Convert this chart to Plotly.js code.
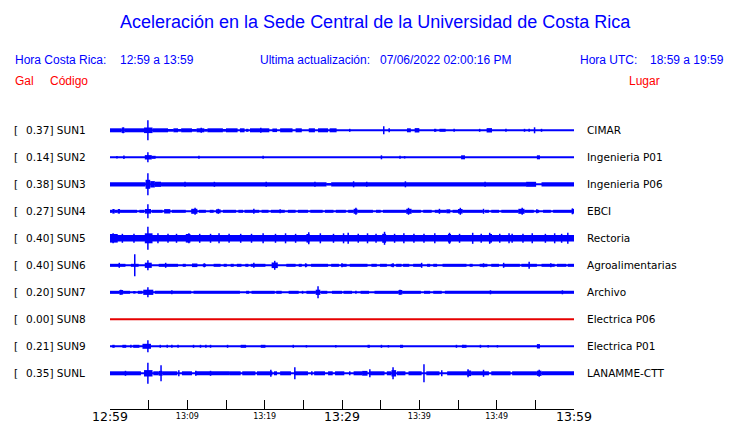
<!DOCTYPE html>
<html><head><meta charset="utf-8">
<script src="https://cdn.plot.ly/plotly-3.0.1.min.js"></script>
<style>html,body{margin:0;padding:0;background:#fff}#chart{width:740px;height:423px}</style>
</head><body><div id="chart"></div>
<script>
// ---- data (minutes after 12:59, amplitudes in display counts) ----
const codes = ['SUN1','SUN2','SUN3','SUN4','SUN5','SUN6','SUN7','SUN8','SUN9','SUNL'];
const galValues = [0.37,0.14,0.38,0.27,0.40,0.40,0.20,0.00,0.21,0.35];
const places = ['CIMAR','Ingenieria P01','Ingenieria P06','EBCI','Rectoria','Agroalimentarias','Archivo','Electrica P06','Electrica P01','LANAMME-CTT'];
const timeSpan = [0, 60];
const tickMinutes = [0,5,10,15,20,25,30,35,40,45,50,55,60];
const majorTickMin = [0,30,60];
const majorTickText = ['12:59','13:29','13:59'];
const minorTickMin = [10,20,40,50];
const minorTickText = ['13:09','13:19','13:39','13:49'];

// bursts: [start, end, half-amplitude]
const sun1Segs = [[0,1.5,2],[1.5,1.9,2.6],[1.9,4.4,2],[4.4,5.5,2.8],[5.5,7.5,2],[7.5,8.2,1.3],[8.2,8.8,2],[8.8,9.2,1.3],[9.2,10.6,2],[10.6,11.2,1.3],[11.2,12.2,2],[12.2,12.6,1.3],[12.6,14.6,2],[14.6,15.0,1.3],[15.0,16.5,2],[16.8,17.4,2],[17.6,17.9,1.5],[18.1,20.6,2],[21.0,21.6,1.8],[22.0,23.6,2],[24.0,24.8,2],[25.7,26.5,2],[26.9,28.2,2],[28.4,29.3,2],[38.4,38.9,2],[39.4,40.0,2.2],[41.9,42.2,1.5],[42.6,43.4,1.5],[48.7,49.4,2.2]];
const sun2Segs = [[4.5,5.4,2.2],[5.4,5.9,1.5],[45.4,45.9,2],[55.2,55.6,2]];
const sun3Segs = [[0,4.6,2.1],[4.6,5.2,4.5],[5.2,5.8,3.2],[5.8,6.6,2.6],[6.6,28,2.1],[28,28.6,1.2],[28.6,53.8,2.1],[53.8,55.1,2.5],[55.8,60,2.1]];
const sun4Segs = [[0,0.3,1.5],[0.3,0.6,2.3],[0.6,1.0,1.5],[1.0,1.3,2.3],[1.3,3.5,1.5],[3.8,4.4,1.5],[4.5,5.3,2.3],[5.4,6.8,1.5],[7.0,7.8,2.2],[8.0,9.8,1.5],[10.5,11.3,2.5],[11.5,12.4,1.5],[12.9,13.4,1.5],[13.7,14.3,2],[14.6,16.3,1.5],[16.6,17.2,1.5],[17.4,19.3,1.5],[19.6,20.5,1.5],[20.8,22.6,1.5],[23.0,24.0,1.5],[24.3,25.6,1.5],[25.9,27.5,1.5],[27.8,28.9,1.5],[29.2,30.5,1.5],[30.8,31.5,1.5],[31.5,32.0,2.5],[32.0,34.0,1.5],[34.4,35.0,1.5],[35.3,38.3,1.5],[38.3,39.0,2.5],[39.0,40.2,1.5],[40.5,41.6,1.5],[42.0,43.5,1.5],[43.5,44.0,2],[44.3,45.0,1.5],[45.0,45.6,2.3],[45.6,48.2,1.5],[48.5,49.0,1.5],[49.3,50.3,1.5],[50.6,52.8,1.5],[52.8,53.6,2.5],[53.6,54.8,1.5],[55.1,55.5,1.5],[56.0,57.0,1.5],[57.3,59.7,1.5],[59.7,60,2.3]];
const sun5Segs = [[0,60,3.2],[0,1.0,4.3],[4.5,5.5,5],[9.8,10.4,4.3],[25.4,25.8,4.3],[35.2,35.7,4.5],[43.7,44.1,4.3],[49.0,49.4,4.3]];
const sun6Segs = [[0,2.0,1.5],[2.7,3.7,1.5],[4.5,5.4,2.6],[6.3,8.8,1.5],[9.4,9.8,1.5],[10.6,11.3,1.8],[12.0,12.4,1.5],[13.4,14.3,1.5],[14.7,15.1,1.5],[15.6,16.0,1.5],[16.4,17.0,1.5],[17.5,17.9,1.5],[18.2,20.1,1.5],[20.9,21.7,2.8],[22.8,24.0,1.5],[24.4,24.8,1.5],[25.3,25.5,1.5],[26.0,28.2,1.5],[28.6,29.6,1.5],[29.9,30.6,1.5],[31.0,33.3,1.5],[33.8,34.5,1.5],[34.9,35.8,1.5],[36.3,36.7,1.5],[37.0,37.7,1.5],[37.9,38.7,1.5],[39.2,40.3,1.5],[41.0,41.4,1.5],[41.8,42.3,1.5],[43.0,46.1,1.5],[46.5,46.9,1.5],[47.8,48.8,1.5],[49.3,50.3,1.5],[50.8,53.0,1.5],[53.2,55.2,1.5],[55.8,57.5,1.5],[57.8,59.0,1.5],[59.2,60,1.5]];
const sun7Segs = [[0,1.2,1.5],[1.2,1.7,2.3],[1.7,2.6,1.5],[3.0,3.3,1.3],[3.6,4.2,1.5],[4.3,5.6,2.6],[5.8,10.5,1.5],[10.8,16.8,1.5],[17.6,18.0,1.5],[18.3,21.3,1.5],[21.5,22.2,1.5],[23.1,24.4,1.5],[24.8,25.0,1.5],[25.4,26.6,1.5],[26.6,27.2,2.6],[27.3,28.1,1.5],[28.7,30.0,1.5],[30.2,31.3,1.5],[31.7,31.9,1.5],[32.4,33.5,1.5],[34.2,37.3,1.5],[37.3,37.8,2.3],[37.8,40.2,1.5],[40.6,41.4,1.5],[41.8,42.9,1.5],[43.3,60,1.5]];
const sun8Segs = [];
const sun9Segs = [[0.3,0.6,1.5],[1.6,2.1,1.5],[3.0,3.8,1.5],[4.2,5.3,2.5],[16.9,17.6,1.5],[19.5,20.1,1.5],[33.3,33.6,1.5],[37.5,37.9,1.5],[45.6,46.1,1.5],[55.2,55.6,2.2]];
const sunLSegs = [[0,4.0,2],[4.4,5.5,3.2],[5.6,6.3,2],[6.3,6.8,2.4],[6.8,8.7,2],[9.3,10.6,2],[11.0,15.5,2],[15.5,16.9,2],[17.1,18.8,2],[19.0,21.0,2],[21.2,21.6,2],[22.0,23.4,2],[23.8,25.6,2],[26.0,26.2,2],[26.4,27.8,2],[28.2,28.8,2],[29.1,30.3,2],[30.9,31.1,2],[31.5,32.6,2],[32.6,33.3,2.4],[33.5,35.5,2],[35.8,36.4,2],[36.4,37.0,3.2],[37.1,38.2,2],[38.6,40.3,2],[40.9,42.6,2],[43.6,46.2,2],[46.2,46.7,2.8],[46.7,49.0,2],[49.3,51.8,2],[52.0,55.2,2],[55.2,55.8,2.6],[55.8,60,2]];

// spikes: [time, half-amplitude]
const sun1Spikes = [[4.9,10],[1.7,3],[11.8,2.5],[19.5,2.5],[31.0,1.5],[35.4,4],[36.1,2],[44.5,1.5],[47.8,1.5],[51.2,1.5],[53.6,1.5],[54.2,1.5],[54.9,3],[55.8,1.5]];
const sun2Spikes = [[4.9,5],[0.9,1.2],[1.8,1.8],[11.5,1.5],[19.8,1.5],[35.1,2],[37.5,1.5],[38.1,1.2]];
const sun3Spikes = [[4.9,11],[31.5,3],[33.2,2.5],[38.2,3],[9.7,2.5],[13.5,2.5],[20.2,2.5],[26.5,2.5],[48.5,2.5]];
const sun4Spikes = [[4.9,7],[11.0,3.5],[22.0,2],[31.8,3.5],[38.6,3.5],[42.6,2.5],[45.3,3.5],[48.3,2.5],[53.3,3.5],[55.2,2],[59.8,3],[18.6,2.5],[14.0,2.5]];
const sun5Spikes = [[4.9,11.5],[0.4,5],[1.6,4.5],[3.1,4.5],[6.2,5],[7.5,4.5],[8.6,4.5],[10.2,5],[11.6,4.5],[13.0,4.5],[14.1,5],[15.4,4.5],[16.9,4.5],[18.3,4.5],[19.8,5],[21.4,4.5],[22.7,5],[24.0,4.5],[25.7,6],[27.2,5],[28.9,4.5],[30.2,5],[30.8,5.5],[32.1,4.5],[33.3,5],[34.4,4.5],[35.5,6.5],[36.8,4.5],[38.0,5],[39.3,4.5],[40.6,4.5],[42.0,5],[43.9,5.5],[45.2,4.5],[46.9,5.5],[48.0,4.5],[49.1,5.5],[50.4,4.5],[51.6,5],[52.0,4.5],[53.4,4.5],[54.6,5],[56.3,4.5],[57.5,5],[58.4,4.5],[59.2,5.5]];
const sun6Spikes = [[3.2,11],[4.9,5],[21.3,4.5],[54.2,3.5],[7.2,2.5],[12.2,2],[18.6,2.5],[25.3,2],[30.0,2],[36.6,2],[40.3,2.5],[48.3,2],[50.9,2.5],[57.0,2],[1.2,2.5]];
const sun7Spikes = [[4.9,5],[26.9,6],[37.5,2.5],[1.4,2.5],[8.0,2],[49.2,2],[58.5,2]];
const sun8Spikes = [];
const sun9Spikes = [[4.9,6],[2.7,1.5],[6.5,1.5],[7.4,1.5],[8.0,1.5],[8.8,1.5],[10.8,1.5],[11.7,1.5],[12.4,1.5],[13.0,1.5],[15.2,1.5],[23.7,1.5],[25.4,1.2],[29.2,1.2],[35.1,1.5],[36.0,1.2],[44.8,1.5],[45.6,1.5],[47.9,1.5],[48.9,1.2],[50.1,1.2]];
const sunLSpikes = [[4.9,10.5],[6.6,8],[8.9,3],[11.1,2.5],[13.0,2.5],[20.8,3.5],[23.9,6],[33.6,4],[36.6,6],[40.6,9],[42.9,3],[46.3,4],[48.3,3.5],[55.5,3.5],[2.0,2.5]];

const allSegs = [sun1Segs,sun2Segs,sun3Segs,sun4Segs,sun5Segs,sun6Segs,sun7Segs,sun8Segs,sun9Segs,sunLSegs];
const allSpikes = [sun1Spikes,sun2Spikes,sun3Spikes,sun4Spikes,sun5Spikes,sun6Spikes,sun7Spikes,sun8Spikes,sun9Spikes,sunLSpikes];

// ---- layout geometry ----
const W = 740, H = 423;
const PL = 110.3, PR = 574.3, PT = 100, PB = 409;
const ROW0 = 30.3, ROWGAP = 27;
const BLUE = '#0000ff', RED = 'rgb(230,0,0)';
const px2x = p => (p - PL) / (PR - PL);
const py2y = p => (PB - p) / (PB - PT);

const traces = [];
codes.forEach((code, i) => {
  const c = ROW0 + i * ROWGAP;
  const isFlat = galValues[i] === 0;
  traces.push({type:'scatter', mode:'lines', x: timeSpan, y: timeSpan.map(() => c),
    xaxis: isFlat ? 'x2' : 'x', line:{color: isFlat ? RED : BLUE, width:2}, hoverinfo:'skip', showlegend:false});
  const s = allSegs[i];
  if (s.length) traces.push({type:'bar', x: s.map(d => (d[0]+d[1])/2), width: s.map(d => d[1]-d[0]),
    base: s.map(d => c - d[2]), y: s.map(d => 2*d[2]), marker:{color: BLUE, line:{width:0}},
    hoverinfo:'skip', showlegend:false});
  const k = allSpikes[i];
  if (k.length) traces.push({type:'scatter', mode:'markers', x: k.map(d => d[0]), y: k.map(() => c),
    marker:{size:1, color:'rgba(0,0,0,0)'},
    error_y:{type:'data', symmetric:true, array: k.map(d => d[1]), width:0, thickness:1.5, color: BLUE},
    hoverinfo:'skip', showlegend:false});
});

const ann = [];
const txt = (text, px, py, opts) => ann.push(Object.assign({text, x: px2x(px), y: py2y(py), xref:'paper', yref:'paper',
  showarrow:false, xanchor:'left', yanchor:'middle'}, opts));
const hdr = {family:'Liberation Sans, Arial, sans-serif', size:12, color: BLUE};
const hdrRed = {family:'Liberation Sans, Arial, sans-serif', size:12, color:'#ff0000'};
txt('Aceleración en la Sede Central de la Universidad de Costa Rica', 376, 22,
  {xanchor:'center', font:{family:'Liberation Sans, Arial, sans-serif', size:18, color: BLUE}});
txt('Hora Costa Rica:', 13, 60, {font: hdr});
txt('12:59 a 13:59', 118, 60, {font: hdr});
txt('Ultima actualización:', 258, 60, {font: hdr});
txt('07/06/2022 02:00:16 PM', 378, 60, {font: hdr});
txt('Hora UTC:', 578, 60, {font: hdr});
txt('18:59 a 19:59', 648, 60, {font: hdr});
txt('Gal', 13, 81, {font: hdrRed});
txt('Código', 48, 81, {font: hdrRed});
txt('Lugar', 627, 81, {font: hdrRed});
const lab = {family:'DejaVu Sans', size:10.5, color:'#000'};
codes.forEach((code, i) => {
  const py = 130.3 + i * ROWGAP;
  txt('[', 12, py, {font: lab});
  txt(galValues[i].toFixed(2) + '] ' + code, 24.5, py, {font: lab});
  txt(places[i], 585, py, {font: lab});
});

const layout = {
  width: W, height: H, paper_bgcolor:'#fff', plot_bgcolor:'#fff', showlegend:false,
  margin:{l: PL, r: W - PR, t: PT, b: H - PB, pad:0},
  barmode:'overlay',
  font:{family:'DejaVu Sans', color:'#000'},
  xaxis:{range: timeSpan, showgrid:false, zeroline:false, showline:true, linecolor:'#000', linewidth:1,
    ticks:'inside', ticklen:9, tickcolor:'#000', tickwidth:1, tickvals: tickMinutes, ticklabelstandoff:-4,
    ticktext: tickMinutes.map(t => { const j = majorTickMin.indexOf(t); return j >= 0 ? majorTickText[j] : ''; }),
    tickfont:{family:'DejaVu Sans', size:12.5, color:'#000'}, fixedrange:true},
  xaxis2:{overlaying:'x', anchor:'y', side:'bottom', range: timeSpan, showgrid:false, zeroline:false, showline:false,
    ticks:'', tickvals: minorTickMin, ticktext: minorTickText, ticklabelstandoff:1,
    tickfont:{family:'DejaVu Sans', size:8, color:'#000'}, fixedrange:true},
  yaxis:{range:[PB - PT, 0], visible:false, showgrid:false, zeroline:false, fixedrange:true},
  annotations: ann
};
Plotly.newPlot('chart', traces, layout, {staticPlot:true, displayModeBar:false});
</script></body></html>
